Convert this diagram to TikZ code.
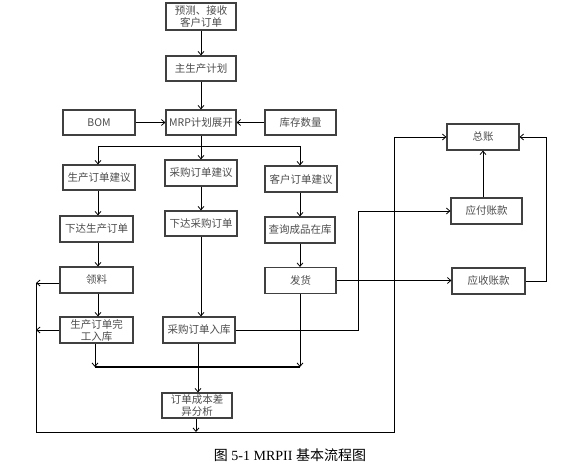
\documentclass[tikz,border=0pt]{standalone}
\usepackage{fontspec}
\setmainfont{Liberation Serif}
\newfontfamily\cjk{Noto Sans CJK SC}
\usetikzlibrary{arrows.meta}
\begin{document}
\begin{tikzpicture}[x=1pt,y=-1pt,
  box/.style={draw=black!75,line width=1.1pt,minimum width=72pt,minimum height=26pt,inner sep=1pt,
    font=\cjk\fontsize{10.5}{12}\selectfont,text=black!70,align=center},
  arr/.style={line width=0.8pt,-{Straight Barb[length=3.5pt,width=6pt]}},
  ln/.style={line width=0.8pt}]
\useasboundingbox (0,0) rectangle (581,468);
% nodes
\node[box,minimum width=70pt,minimum height=27pt] (fc) at (201,16.5) {预测、接收\\客户订单};
\node[box,minimum width=70pt,minimum height=25pt] (mps) at (201,68.5) {主生产计划};
\node[box,minimum width=70pt,minimum height=25pt] (mrp) at (201,122.5) {MRP计划展开};
\node[box,minimum height=25pt] (bom) at (99,122.5) {BOM};
\node[box,minimum width=71pt,minimum height=25pt] (inv) at (300.5,122.5) {库存数量};
\node[box,minimum height=25pt] (pos) at (99,177.5) {生产订单建议};
\node[box] (pur) at (201,173) {采购订单建议};
\node[box] (cus) at (301,179) {客户订单建议};
\node[box,minimum width=73pt] (rel) at (96.5,229) {下达生产订单};
\node[box,minimum height=25pt] (relp) at (201,223.5) {下达采购订单};
\node[box,minimum width=70pt] (query) at (300,230) {查询成品在库};
\node[box,minimum width=73pt] (pick) at (96.5,280) {领料};
\node[box,minimum width=71pt] (ship) at (300.5,280.5) {发货};
\node[box] (gl) at (483,137) {总账};
\node[box,minimum width=71pt] (ap) at (486.5,211) {应付账款};
\node[box,minimum width=73pt] (ar) at (488.5,281) {应收账款};
\node[box,minimum width=73pt] (done) at (96.5,330) {生产订单完\\工入库};
\node[box] (pin) at (199,330) {采购订单入库};
\node[box,minimum width=70pt,minimum height=25pt] (cost) at (197,405.5) {订单成本差\\异分析};
% coordinates
\coordinate (sp) at (201,146);
\coordinate (spl) at (98,146);
\coordinate (spr) at (300,146);
\coordinate (tl) at (95,367);
\coordinate (tr) at (300,367);
\coordinate (bl) at (36,432);
\coordinate (bm) at (196,432);
\coordinate (br) at (394,432);
\coordinate (lt) at (36,283);
\coordinate (lm) at (36,330);
\coordinate (rt) at (394,137);
\coordinate (pa) at (358,330);
\coordinate (pb) at (358,211);
\coordinate (ra) at (546,281);
\coordinate (rb) at (546,137);
% connectors
\draw[arr] (fc) -- (mps);
\draw[arr] (mps) -- (mrp);
\draw[arr] (bom) -- (mrp);
\draw[arr] (inv) -- (mrp);
\draw[ln] (mrp.south) -- (sp);
\draw[ln] (spl) -- (spr);
\draw[arr] (spl) -- (spl |- pos.north);
\draw[arr] (sp) -- (pur);
\draw[arr] (spr) -- (spr |- cus.north);
\draw[arr] (pos.south -| spl) -- (rel.north -| spl);
\draw[arr] (rel.south -| spl) -- (pick.north -| spl);
\draw[arr] (pick.south -| spl) -- (done.north -| spl);
\draw[arr] (pur) -- (relp);
\draw[arr] (relp.south) -- (pin.north -| relp.south);
\draw[arr] (cus.south -| spr) -- (query.north -| spr);
\draw[arr] (query.south -| spr) -- (ship.north -| spr);
\draw[arr] (done.south -| tl) -- (tl);
\draw[arr] (ship.south -| tr) -- (tr);
\draw[line width=1.8pt] (tl) -- (tr);
\draw[arr] (pin.south -| 198,0) -- (cost.north -| 198,0);
\draw[arr] (cost.south -| bm) -- (bm);
\draw[arr] (pick.west |- lt) -- (lt);
\draw[arr] (done.west) -- (lm);
\draw[ln] (lt) -- (bl) -- (br) -- (rt);
\draw[arr] (rt) -- (gl.west);
\draw[arr] (pin.east) -- (pa) -- (pb) -- (ap.west);
\draw[arr] (ship.east) -- (ship.east -| ar.west);
\draw[arr] (ar.east) -- (ra) -- (rb) -- (gl.east);
\draw[arr] (ap.north -| gl.south) -- (gl.south);
% caption
\node[font=\fontsize{14}{16}\selectfont] (cap) at (290,455) {{\cjk 图} 5-1 MRPII {\cjk 基本流程图}};
\end{tikzpicture}
\end{document}
